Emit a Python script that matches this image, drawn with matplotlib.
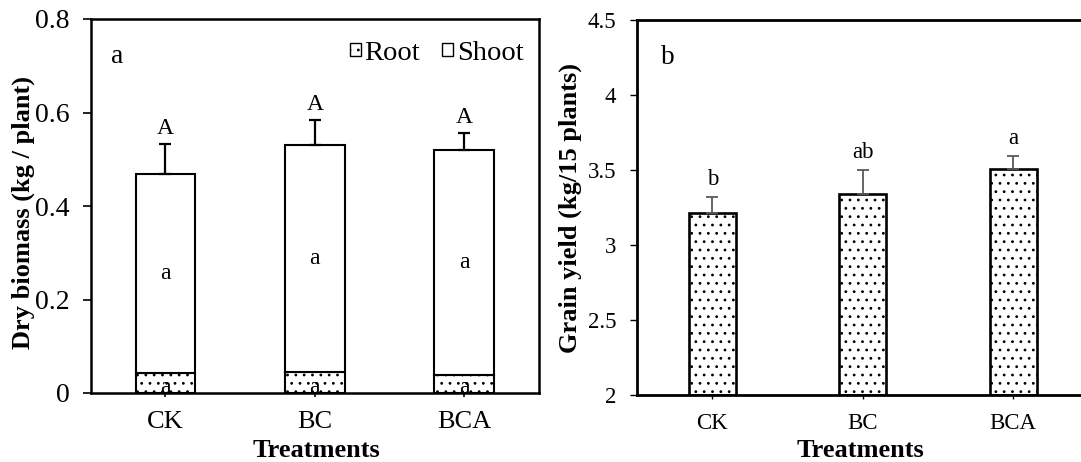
import matplotlib
matplotlib.use("Agg")
import matplotlib.pyplot as plt
from matplotlib.patches import Patch
import numpy as np

# ---- data ----
treatments = ["CK", "BC", "BCA"]
root_mass = [0.042, 0.045, 0.0385]
shoot_mass = [0.426, 0.4855, 0.4815]
biomass_err = [0.064, 0.053, 0.0355]
total_letters = ["A", "A", "A"]
shoot_letters = ["a", "a", "a"]
root_letters = ["a", "a", "a"]

grain_yield = [3.211, 3.338, 3.507]
yield_err = [0.111, 0.162, 0.086]
yield_letters = ["b", "ab", "a"]

left_yticks = [0, 0.2, 0.4, 0.6, 0.8]
left_yticklabels = ["0", "0.2", "0.4", "0.6", "0.8"]
right_yticks = [2, 2.5, 3, 3.5, 4, 4.5]
right_yticklabels = ["2", "2.5", "3", "3.5", "4", "4.5"]

plt.rcParams["font.family"] = ["Liberation Serif", "DejaVu Serif"]
plt.rcParams["hatch.linewidth"] = 0.8
plt.rcParams["hatch.color"] = "black"

W, H = 1081, 462
fig = plt.figure(figsize=(W / 100, H / 100), dpi=100)

def px_axes(x0, y0, x1, y1):
    return fig.add_axes([x0 / W, 1 - y1 / H, (x1 - x0) / W, (y1 - y0) / H])

x = np.arange(len(treatments))

# ---------------- panel a ----------------
ax1 = px_axes(90.7, 19, 539, 393)
ax1.bar(x, root_mass, width=0.4, color="white", edgecolor="black",
        linewidth=1.5, hatch="..", zorder=2)
ax1.bar(x, shoot_mass, width=0.4, bottom=root_mass, color="white",
        edgecolor="black", linewidth=1.5, zorder=2)
totals = [r + s for r, s in zip(root_mass, shoot_mass)]
ax1.errorbar(x, totals, yerr=[[0] * 3, biomass_err], fmt="none",
             ecolor="black", elinewidth=1.6, capsize=4.5, capthick=1.6, zorder=3)
for i in range(len(x)):
    ax1.annotate(total_letters[i], (x[i], totals[i] + biomass_err[i]),
                 xytext=(0, 4), textcoords="offset points",
                 ha="center", va="bottom", fontsize=17)
    ax1.text(x[i], (root_mass[i] + totals[i]) / 2, shoot_letters[i],
             ha="center", va="center", fontsize=17, zorder=4)
    ax1.text(x[i], 0.0, root_letters[i], ha="center", va="baseline",
             fontsize=17, zorder=4)

ax1.set_xlim(-0.5, 2.5)
ax1.set_ylim(0, 0.8)
ax1.set_yticks(left_yticks)
ax1.set_yticklabels(left_yticklabels)
ax1.set_xticks(x)
ax1.set_xticklabels(treatments)
ax1.tick_params(axis="y", direction="out", length=6, width=1.2, labelsize=20, pad=9)
ax1.tick_params(axis="x", direction="out", length=3, width=1.2, labelsize=19, pad=10)
for s in ax1.spines.values():
    s.set_linewidth(1.8)
ax1.set_xlabel("Treatments", fontsize=19, fontweight="bold", va="baseline")
ax1.xaxis.set_label_coords(0.504, -0.170)
ax1.set_ylabel("Dry biomass (kg / plant)", fontsize=19, fontweight="bold", va="center")
ax1.yaxis.set_label_coords(-0.151, 0.483)
ax1.text(0.06, 0.90, "a", transform=ax1.transAxes, fontsize=20,
         ha="center", va="center")

handles = [Patch(facecolor="white", edgecolor="black", hatch="..", linewidth=1.0),
           Patch(facecolor="white", edgecolor="black", linewidth=1.0)]
ax1.legend(handles, ["Root", "Shoot"], loc="center right",
           bbox_to_anchor=(0.965, 0.908), ncol=2, frameon=False, fontsize=20.5,
           handlelength=0.38, handleheight=0.3, handletextpad=0.12,
           columnspacing=0.8, borderpad=0, borderaxespad=0)

# ---------------- panel b ----------------
ax2 = px_axes(637, 20, 637 + 451.5, 395)
ax2.bar(x, [v - 2 for v in grain_yield], width=0.315, bottom=2, color="white",
        edgecolor="black", linewidth=1.9, hatch="..", zorder=2)
ax2.errorbar(x, grain_yield, yerr=[[0] * 3, yield_err], fmt="none",
             ecolor="#595959", elinewidth=1.3, capsize=4, capthick=1.3, zorder=3)
for i in range(len(x)):
    ax2.annotate(yield_letters[i], (x[i], grain_yield[i] + yield_err[i]),
                 xytext=(0, 5), textcoords="offset points",
                 ha="center", va="bottom", fontsize=16.5)
ax2.set_xlim(-0.5, 2.5)
ax2.set_ylim(2, 4.5)
ax2.set_yticks(right_yticks)
ax2.set_yticklabels(right_yticklabels)
ax2.set_xticks(x)
ax2.set_xticklabels(treatments)
ax2.tick_params(axis="y", direction="out", length=5, width=1.0, labelsize=16.5, pad=10)
ax2.tick_params(axis="x", direction="out", length=3, width=1.0, labelsize=16.5, pad=10)
for s in ax2.spines.values():
    s.set_linewidth(2.0)
ax2.set_xlabel("Treatments", fontsize=19, fontweight="bold", va="baseline")
ax2.xaxis.set_label_coords(0.494, -0.165)
ax2.set_ylabel("Grain yield (kg/15 plants)", fontsize=19, fontweight="bold", va="center")
ax2.yaxis.set_label_coords(-0.148, 0.498)
ax2.text(0.069, 0.90, "b", transform=ax2.transAxes, fontsize=19.5,
         ha="center", va="center")

fig.savefig("out.png", dpi=100)
